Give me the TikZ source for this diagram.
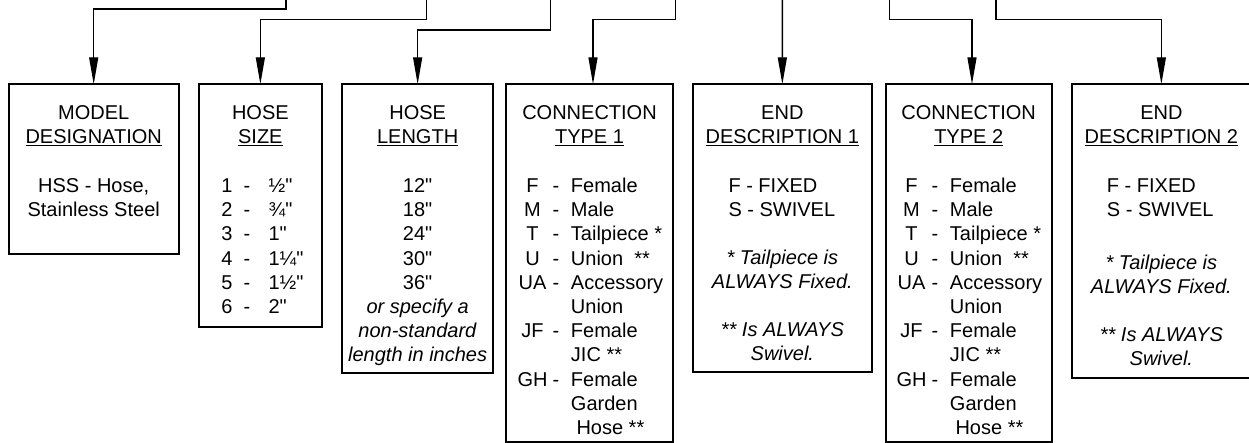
\documentclass[tikz,border=0pt]{standalone}
\usepackage{fontspec}
\setmainfont{Liberation Sans}[Ligatures=TeXOff]
\usetikzlibrary{arrows.meta, positioning}
\newcommand{\fsz}{\fontsize{20}{24.2}\selectfont}
\newcommand{\conncodes}{%
  \begin{tabular}[t]{@{}c@{\hspace{5.1pt}}c@{\hspace{11.7pt}}l@{}}
    F  & - & Female\\
    M  & - & Male\\
    T  & - & Tailpiece *\\
    U  & - & Union\ \ **\\
    UA & - & Accessory\\
       &   & Union\\
    JF & - & Female\\
       &   & JIC **\\
    GH & - & Female\\
       &   & Garden\\
       &   & \ Hose **
  \end{tabular}}
\newcommand{\fixcodes}{F - FIXED\\S - SWIVEL}
\newcommand{\fixnotes}{* Tailpiece is\\ALWAYS Fixed.\\[24.2pt]** Is ALWAYS\\Swivel.}
\tikzset{
  field/.style={draw, line width=2pt, outer sep=0pt, inner sep=0pt, anchor=north west},
  feed/.style={line width=1.3pt, -{Triangle[length=27pt, width=9pt]}},
  heading/.style={anchor=base, align=center, inner sep=0pt, font=\fsz},
  body/.style={anchor=base, align=center, inner sep=0pt, font=\fsz},
  codes/.style={anchor=base west, align=left, inner sep=0pt, font=\fsz},
}

\begin{document}
\begin{tikzpicture}[x=1pt, y=-1pt]
  \useasboundingbox (0,0) rectangle (1249,443);

  % Boxes
  \node[field, minimum width=170pt, minimum height=169.7pt] (model) at (8.7,84.3) {};
  \node[field, minimum width=123.3pt, minimum height=242.7pt] (size) at (198.7,84.3) {};
  \node[field, minimum width=151.3pt, minimum height=288.4pt] (length) at (342,84.3) {};
  \node[field, minimum width=166.6pt, minimum height=357.4pt] (conna) at (506.2,84.3) {};
  \node[field, minimum width=178.7pt, minimum height=288pt] (enda) at (693,84.3) {};
  \node[field, minimum width=166pt, minimum height=357.4pt] (connb) at (885.7,84.3) {};
  \node[field, minimum width=178.7pt, minimum height=293.4pt] (endb) at (1072,84.3) {};

  % Headings (base = last line)
  \node[heading] (modelhead) at ([yshift=-59.1pt]model.north) {MODEL\\\underline{DESIGNATION}};
  \node[heading] (sizehead) at ([yshift=-59.1pt]size.north) {HOSE\\\underline{SIZE}};
  \node[heading] (lengthhead) at ([yshift=-59.1pt]length.north) {HOSE\\\underline{LENGTH}};
  \node[heading] (connahead) at ([yshift=-59.1pt]conna.north) {CONNECTION\\\underline{TYPE 1}};
  \node[heading] (endahead) at ([yshift=-59.1pt]enda.north) {END\\\underline{DESCRIPTION 1}};
  \node[heading] (connbhead) at ([yshift=-59.1pt]connb.north) {CONNECTION\\\underline{TYPE 2}};
  \node[heading] (endbhead) at ([yshift=-59.1pt]endb.north) {END\\\underline{DESCRIPTION 2}};

  % Contents
  \node[body] (modeltext) at ([yshift=-132.4pt]model.north) {HSS - Hose,\\Stainless Steel};
  \node[codes] (sizelist) at ([xshift=22.4pt, yshift=-108.2pt]size.north west)
    {\begin{tabular}[t]{@{}c@{\hspace{11.2pt}}c@{\hspace{18.3pt}}l@{}}
      1 & - & ½"\\ 2 & - & ¾"\\ 3 & - & 1"\\ 4 & - & 1¼"\\ 5 & - & 1½"\\ 6 & - & 2"
    \end{tabular}};
  \node[body] (lengthlist) at ([yshift=-277.6pt]length.north)
    {12"\\18"\\24"\\30"\\36"\\\textit{or specify a}\\\textit{non-standard}\\\textit{length in inches}};
  \node[codes] (connalist) at ([xshift=11.1pt, yshift=-108.2pt]conna.north west) {\conncodes};
  \node[codes] (connblist) at ([xshift=10.6pt, yshift=-108.2pt]connb.north west) {\conncodes};
  \node[codes] (endalist) at ([xshift=35.3pt, yshift=-132.4pt]enda.north west) {\fixcodes};
  \node[codes] (endblist) at ([xshift=34.7pt, yshift=-132.4pt]endb.north west) {\fixcodes};
  \node[body, font=\fsz\itshape] (endanote) at ([yshift=-276.5pt]enda.north) {\fixnotes};
  \node[body, font=\fsz\itshape] (endbnote) at ([yshift=-281.5pt]endb.north) {\fixnotes};

  % Feeds from the part number
  \coordinate (topmodel) at (286,0);
  \coordinate (topsize) at (426.7,0);
  \coordinate (toplength) at (550.7,0);
  \coordinate (topconna) at (675.3,0);
  \coordinate (topenda) at (782.35,0);
  \coordinate (topconnb) at (889.7,0);
  \coordinate (topendb) at (996,0);
  \draw[feed] (topmodel) -- ++(0,9) -| (model.north);
  \draw[feed] (topsize) -- ++(0,19.3) -| (size.north);
  \draw[feed] (toplength) -- ++(0,30) -| (length.north);
  \draw[feed] (topconna) -- ++(0,19.3) -| ([xshift=3.5pt]conna.north);
  \draw[feed] (topenda) -- (enda.north);
  \draw[feed] (topconnb) -- ++(0,19.3) -| ([xshift=3.3pt]connb.north);
  \draw[feed] (topendb) -- ++(0,19.3) -| (endb.north);
\end{tikzpicture}
\end{document}
